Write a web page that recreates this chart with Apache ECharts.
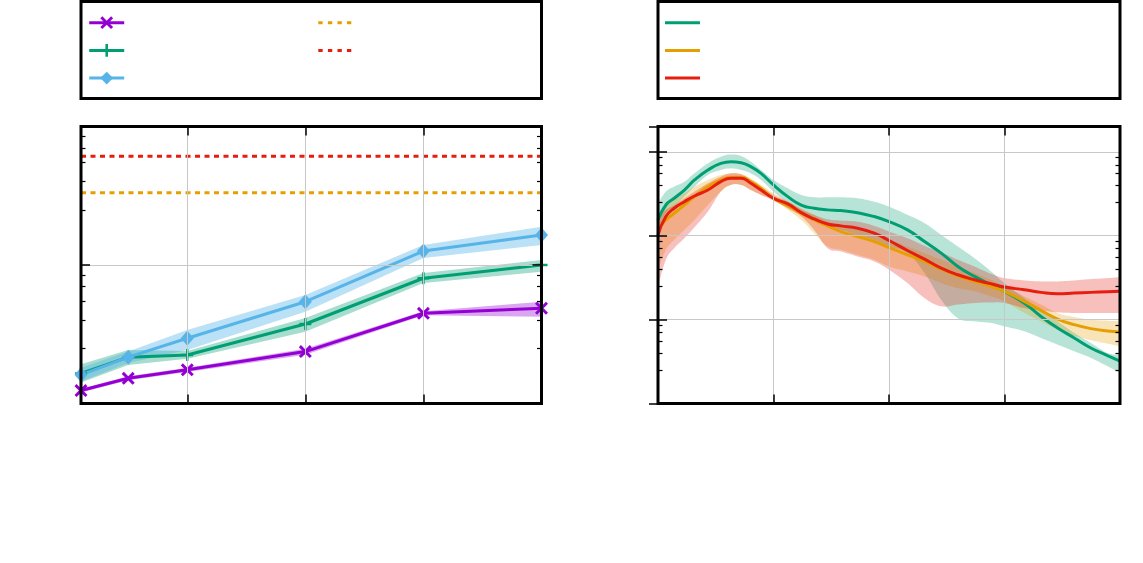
<!DOCTYPE html>
<html><head><meta charset="utf-8">
<script src="https://cdn.jsdelivr.net/npm/echarts@6/dist/echarts.min.js"></script>
<style>html,body{margin:0;padding:0;background:#fff}#c{width:1143px;height:563px}</style>
</head><body><div id="c"></div>
<script>
// ---------- left panel data ----------
const leftX = [20, 100, 200, 400, 600, 800];
const purpleMean = [0.124, 0.152, 0.175, 0.237, 0.448, 0.487];
const purpleLow  = [0.120, 0.147, 0.169, 0.225, 0.433, 0.423];
const purpleHigh = [0.128, 0.157, 0.181, 0.249, 0.463, 0.543];
const greenMean  = [0.165, 0.216, 0.224, 0.375, 0.802, 1.0];
const greenLow   = [0.142, 0.190, 0.210, 0.330, 0.741, 0.895];
const greenHigh  = [0.192, 0.243, 0.239, 0.414, 0.876, 1.087];
const blueMean   = [0.161, 0.216, 0.296, 0.543, 1.262, 1.647];
const blueLow    = [0.144, 0.196, 0.243, 0.460, 1.123, 1.394];
const blueHigh   = [0.181, 0.237, 0.339, 0.607, 1.394, 1.890];
const refOrange = 3.32;
const refRed = 6.1;
const leftMinorTicks = [0.25, 0.4, 0.55, 0.7, 0.85, 2.5, 4, 5.5, 7, 8.5];

// ---------- right panel data ----------
const rightX = [0, 1.7, 3.5, 5.7, 7.9, 10.8, 13.6, 15.8, 18, 20.1, 22.3, 25, 28.1, 31, 33.8, 36.7, 39.6,
  43.2, 46.8, 50, 54, 57.7, 61.3, 64.9, 68.5, 72.1, 75, 79.3, 82.9, 86.5, 90.1, 93.7, 97.3, 100];
const gMean = [0.154, 0.232, 0.279, 0.350, 0.461, 0.606, 0.727, 0.761, 0.741, 0.664, 0.553, 0.402, 0.292, 0.232, 0.212, 0.203, 0.199,
  0.188, 0.169, 0.147, 0.1172, 0.0852, 0.0619, 0.0429, 0.0327, 0.0260, 0.0217, 0.0157, 0.0109, 0.00794, 0.00604, 0.00459, 0.00372, 0.00319];
const gHigh = [0.243, 0.335, 0.384, 0.440, 0.553, 0.727, 0.873, 0.930, 0.889, 0.761, 0.606, 0.461, 0.367, 0.306, 0.287, 0.287, 0.287,
  0.279, 0.254, 0.222, 0.177, 0.141, 0.1022, 0.0743, 0.054, 0.0375, 0.0272, 0.0180, 0.0131, 0.00953, 0.00692, 0.00526, 0.0040, 0.00383];
const gLow = [0.1172, 0.185, 0.222, 0.292, 0.384, 0.528, 0.606, 0.634, 0.606, 0.553, 0.461, 0.335, 0.243, 0.185, 0.154, 0.1284, 0.1172,
  0.1022, 0.0891, 0.0743, 0.0619, 0.0358, 0.0172, 0.0104, 0.00953, 0.0091, 0.0083, 0.00725, 0.00604, 0.00503, 0.00419, 0.00349, 0.00278, 0.00231];
const oMean = [0.1172, 0.154, 0.185, 0.232, 0.292, 0.384, 0.461, 0.496, 0.496, 0.440, 0.367, 0.279, 0.226, 0.185, 0.154, 0.1308, 0.112,
  0.0976, 0.0852, 0.0722, 0.0591, 0.0493, 0.0399, 0.0333, 0.0285, 0.0248, 0.0217, 0.0165, 0.0129, 0.01016, 0.0087, 0.0078, 0.00731, 0.00712];
const oHigh = [0.185, 0.222, 0.267, 0.320, 0.384, 0.461, 0.528, 0.553, 0.543, 0.482, 0.402, 0.320, 0.259, 0.212, 0.177, 0.147, 0.1308,
  0.1172, 0.1022, 0.0891, 0.0743, 0.0619, 0.0516, 0.0429, 0.0358, 0.0298, 0.0248, 0.0189, 0.0151, 0.0120, 0.01073, 0.00997, 0.0097, 0.00953];
const oLow = [0.0392, 0.0678, 0.0891, 0.1172, 0.154, 0.232, 0.335, 0.402, 0.402, 0.350, 0.306, 0.267, 0.203, 0.154, 0.107, 0.0743, 0.0678,
  0.0591, 0.0516, 0.0429, 0.0375, 0.0327, 0.0272, 0.0237, 0.0217, 0.0189, 0.0165, 0.0120, 0.00953, 0.00759, 0.00643, 0.00566, 0.00517, 0.0048];
const rMean = [0.1022, 0.169, 0.212, 0.254, 0.297, 0.350, 0.440, 0.482, 0.482, 0.421, 0.350, 0.279, 0.239, 0.188, 0.1584, 0.138, 0.1308,
  0.1227, 0.107, 0.0875, 0.0666, 0.0525, 0.0410, 0.0342, 0.0298, 0.0267, 0.0244, 0.0227, 0.0211, 0.0203, 0.0207, 0.0211, 0.0215, 0.0217];
const rHigh = [0.169, 0.203, 0.232, 0.279, 0.335, 0.421, 0.505, 0.553, 0.538, 0.461, 0.384, 0.306, 0.254, 0.2064, 0.177, 0.157, 0.1513,
  0.147, 0.1308, 0.112, 0.0933, 0.0756, 0.063, 0.0516, 0.0429, 0.0351, 0.0312, 0.0293, 0.0285, 0.0285, 0.0293, 0.0304, 0.0312, 0.0321];
const rLow = [0.0248, 0.0516, 0.0710, 0.0933, 0.126, 0.194, 0.335, 0.402, 0.402, 0.350, 0.306, 0.2618, 0.212, 0.169, 0.1172, 0.0710, 0.0648,
  0.0565, 0.0493, 0.0392, 0.0272, 0.0180, 0.0144, 0.0151, 0.01574, 0.016, 0.01574, 0.0137, 0.0129, 0.0122, 0.0120, 0.0120, 0.0120, 0.0120];
const rightMinorTicks = [0.0025, 0.004, 0.0055, 0.007, 0.0085, 0.025, 0.04, 0.055, 0.07, 0.085, 0.25, 0.4, 0.55, 0.7, 0.85];

const C = { purple: '#9400D3', green: '#009E73', blue: '#56B4E9', orange: '#E69F00', red: '#E51E10' };
const SYM_X = 'path://M0,1.6L1.6,0L5,3.4L8.4,0L10,1.6L6.6,5L10,8.4L8.4,10L5,6.6L1.6,10L0,8.4L3.4,5Z';
const SYM_P = 'path://M4,0H6V4H10V6H6V10H4V6H0V4H4Z';

function pairs(xs, ys) { return xs.map((x, i) => [x, ys[i]]); }

// sample a smooth (cardinal) curve through pixel points, for drawing only
function smoothPts(pts, k) {
  const out = [pts[0]];
  const n = pts.length;
  for (let i = 0; i < n - 1; i++) {
    const p0 = pts[Math.max(i - 1, 0)], p1 = pts[i], p2 = pts[i + 1], p3 = pts[Math.min(i + 2, n - 1)];
    const c1 = [p1[0] + (p2[0] - p0[0]) * k, p1[1] + (p2[1] - p0[1]) * k];
    const c2 = [p2[0] - (p3[0] - p1[0]) * k, p2[1] - (p3[1] - p1[1]) * k];
    for (let s = 1; s <= 10; s++) {
      const t = s / 10, u = 1 - t;
      out.push([
        u * u * u * p1[0] + 3 * u * u * t * c1[0] + 3 * u * t * t * c2[0] + t * t * t * p2[0],
        u * u * u * p1[1] + 3 * u * u * t * c1[1] + 3 * u * t * t * c2[1] + t * t * t * p2[1]
      ]);
    }
  }
  return out;
}

function band(xs, low, high, color, xi, yi, smooth, op) {
  return {
    type: 'custom', xAxisIndex: xi, yAxisIndex: yi, clip: true, silent: true, z: 2,
    data: xs.map((x, i) => [x, low[i], high[i]]),
    encode: { x: 0, y: [1, 2] },
    renderItem: function (params, api) {
      if (params.dataIndex !== 0) return null;
      let top = xs.map((x, i) => api.coord([x, high[i]]));
      let bot = xs.map((x, i) => api.coord([x, low[i]])).reverse();
      if (smooth) { top = smoothPts(top, 0.2); bot = smoothPts(bot, 0.2); }
      return { type: 'polygon', shape: { points: top.concat(bot) },
        style: { fill: color, opacity: op } };
    }
  };
}
function mainLine(name, xs, ys, color, xi, yi, sym, size, smooth) {
  return { name: name, type: 'line', xAxisIndex: xi, yAxisIndex: yi, data: pairs(xs, ys),
    symbol: sym, symbolSize: size, showSymbol: sym !== 'none', smooth: smooth,
    lineStyle: { width: 3, color: color }, itemStyle: { color: color }, z: 3 };
}

const tickStyle = { color: '#000', width: 1.5 };
function xAx(grid, pos, min, max, interval, split) {
  const a = { type: 'value', gridIndex: grid, position: pos, min: min, max: max,
    axisLine: { show: false }, axisLabel: { show: false },
    axisTick: { show: true, inside: true, length: 9, lineStyle: tickStyle },
    splitLine: { show: split, lineStyle: { color: '#c8c8c8', width: 1 } }, z: 10 };
  if (interval) a.interval = interval;
  return a;
}
function yAx(grid, pos, min, max, split, minorVals) {
  const a = { type: 'log', logBase: 10, gridIndex: grid, position: pos, min: min, max: max,
    axisLine: { show: false }, axisLabel: { show: false },
    axisTick: { show: true, inside: true, length: 9, lineStyle: tickStyle },
    splitLine: { show: split, lineStyle: { color: '#c8c8c8', width: 1 } }, z: 10 };
  if (minorVals) {
    a.axisTick = { show: true, inside: true, length: 4.5, customValues: minorVals, lineStyle: { color: '#000', width: 1.2 } };
    a.splitLine = { show: false };
  }
  return a;
}

const series = [
  band(leftX, purpleLow, purpleHigh, C.purple, 0, 0, false, 0.35),
  band(leftX, greenLow, greenHigh, C.green, 0, 0, false, 0.35),
  band(leftX, blueLow, blueHigh, C.blue, 0, 0, false, 0.4),
  { name: 'L4', type: 'line', xAxisIndex: 0, yAxisIndex: 0, data: [[20, refOrange], [800, refOrange]], symbol: 'none',
    lineStyle: { width: 3, color: C.orange, type: [5, 4.5] }, itemStyle: { color: C.orange }, z: 3 },
  { name: 'L5', type: 'line', xAxisIndex: 0, yAxisIndex: 0, data: [[20, refRed], [800, refRed]], symbol: 'none',
    lineStyle: { width: 3, color: C.red, type: [5, 4.5] }, itemStyle: { color: C.red }, z: 3 },
  mainLine('L1', leftX, purpleMean, C.purple, 0, 0, SYM_X, 13, false),
  mainLine('L2', leftX, greenMean, C.green, 0, 0, SYM_P, 12, false),
  mainLine('L3', leftX, blueMean, C.blue, 0, 0, 'diamond', [13, 15], false),
  band(rightX, gLow, gHigh, C.green, 2, 4, true, 0.28),
  band(rightX, oLow, oHigh, C.orange, 2, 4, true, 0.28),
  band(rightX, rLow, rHigh, C.red, 2, 4, true, 0.28),
  mainLine('R1', rightX, gMean, C.green, 2, 4, 'none', 0, true),
  mainLine('R2', rightX, oMean, C.orange, 2, 4, 'none', 0, true),
  mainLine('R3', rightX, rMean, C.red, 2, 4, 'none', 0, true)
];

const dashIcon = 'path://M0,0h4.3v3h-4.3zM9.5,0h4.3v3h-4.3zM19,0h4.3v3h-4.3zM28.4,0h4.3v3h-4.3z';
const solidIcon = 'path://M0,0H35V3H0Z';
const legBase = { orient: 'vertical', padding: 0, itemWidth: 35, itemHeight: 16,
  formatter: () => '', selectedMode: false, textStyle: { fontSize: 10, lineHeight: 20 },
  lineStyle: { width: 3 } };

const chart = echarts.init(document.getElementById('c'), null, { renderer: 'canvas' });
chart.setOption({
  animation: false,
  backgroundColor: '#fff',
  grid: [
    { left: 81, top: 126.5, width: 460.5, height: 277, show: false },
    { left: 658, top: 126.5, width: 462, height: 277, show: false }
  ],
  xAxis: [
    xAx(0, 'bottom', 20, 800, null, true),
    xAx(0, 'top', 20, 800, null, false),
    xAx(1, 'bottom', 0, 100, 25, true),
    xAx(1, 'top', 0, 100, 25, false)
  ],
  yAxis: [
    yAx(0, 'left', 0.1, 10, true, null),
    yAx(0, 'right', 0.1, 10, false, null),
    yAx(0, 'left', 0.1, 10, false, leftMinorTicks),
    yAx(0, 'right', 0.1, 10, false, leftMinorTicks),
    yAx(1, 'left', 0.001, 2, true, null),
    yAx(1, 'right', 0.001, 2, false, null),
    yAx(1, 'left', 0.001, 2, false, rightMinorTicks),
    yAx(1, 'right', 0.001, 2, false, rightMinorTicks)
  ],
  legend: [
    Object.assign({}, legBase, { left: 87.7, top: 16.3, itemGap: 14.9, data: ['L1', 'L2', 'L3'] }),
    Object.assign({}, legBase, { left: 318.3, top: 21.2, itemGap: 24.7, itemWidth: 33, data: [
      { name: 'L4', icon: dashIcon }, { name: 'L5', icon: dashIcon } ] }),
    Object.assign({}, legBase, { left: 665, top: 21.2, itemGap: 24.7, data: [
      { name: 'R1', icon: solidIcon }, { name: 'R2', icon: solidIcon }, { name: 'R3', icon: solidIcon } ] })
  ],
  graphic: [
    { type: 'rect', z: 100, shape: { x: 81, y: 126.5, width: 460.5, height: 277 }, style: { fill: 'none', stroke: '#000', lineWidth: 3 } },
    { type: 'rect', z: 100, shape: { x: 658, y: 126.5, width: 462, height: 277 }, style: { fill: 'none', stroke: '#000', lineWidth: 3 } },
    { type: 'rect', z: 100, shape: { x: 81, y: 1.5, width: 460.5, height: 97 }, style: { fill: 'none', stroke: '#000', lineWidth: 3 } },
    { type: 'rect', z: 100, shape: { x: 658, y: 1.5, width: 462, height: 97 }, style: { fill: 'none', stroke: '#000', lineWidth: 3 } }
  ],
  series: series
});
</script>
</body></html>
